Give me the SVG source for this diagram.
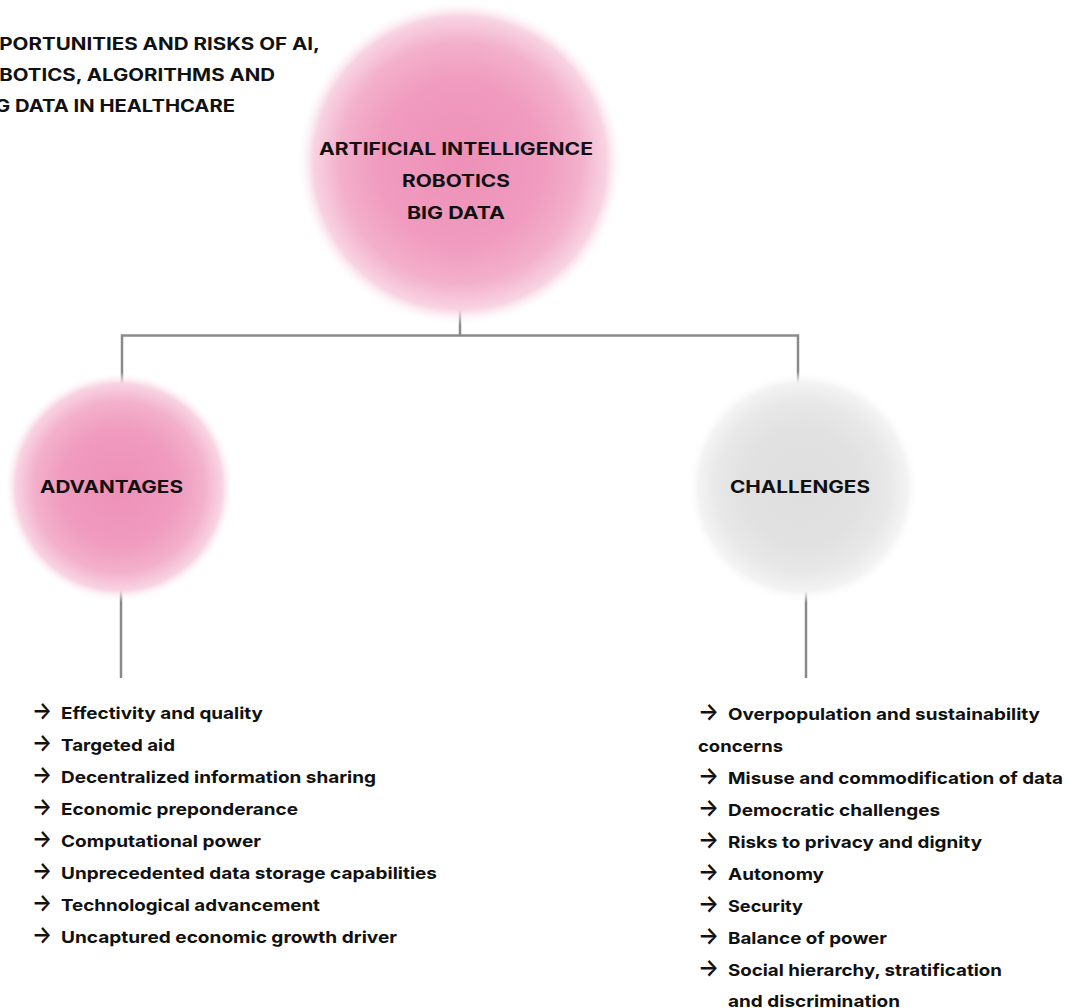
<svg xmlns="http://www.w3.org/2000/svg" width="1069" height="1008" viewBox="0 0 1069 1008">
  <style>
    text { font-family: "Inter", "DejaVu Sans", sans-serif; font-weight: 700; fill: #111111; }
    .title { font-size: 17px; }
    .head { font-size: 17px; text-anchor: middle; }
    .item { font-size: 16.5px; }
    .arr { font-family: "Inter", "DejaVu Sans", sans-serif; font-weight: 600; font-size: 24px; }
    .wire { stroke: #8a8a8a; stroke-width: 2.5; fill: none; }
  </style>
  <defs>
    <radialGradient id="pinkGlow" cx="50%" cy="50%" r="50%">
      <stop offset="0" stop-color="#ee90b7"/>
      <stop offset="0.5" stop-color="#f09bbf"/>
      <stop offset="0.74" stop-color="#f3b0cb"/>
      <stop offset="0.9" stop-color="#f8d4e2"/>
      <stop offset="1" stop-color="#ffffff" stop-opacity="0"/>
    </radialGradient>
    <radialGradient id="greyGlow" cx="50%" cy="50%" r="50%">
      <stop offset="0" stop-color="#dfdfdf"/>
      <stop offset="0.5" stop-color="#e1e1e1"/>
      <stop offset="0.74" stop-color="#e8e8e8"/>
      <stop offset="0.9" stop-color="#f3f3f3"/>
      <stop offset="1" stop-color="#ffffff" stop-opacity="0"/>
    </radialGradient>
  </defs>

  <rect width="1069" height="1008" fill="#ffffff"/>

  <!-- heading, runs off the left edge -->
  <g id="title">
    <text class="title" x="-30" y="49.5" textLength="350" lengthAdjust="spacingAndGlyphs">OPPORTUNITIES AND RISKS OF AI,</text>
    <text class="title" x="-30" y="80.5" textLength="305" lengthAdjust="spacingAndGlyphs">ROBOTICS, ALGORITHMS AND</text>
    <text class="title" x="-24" y="111.5" textLength="259" lengthAdjust="spacingAndGlyphs">BIG DATA IN HEALTHCARE</text>
  </g>

  <!-- connectors -->
  <g id="connectors">
    <path class="wire" d="M460 299 V335.5"/>
    <path class="wire" d="M122 412 V335.5 H798 V412"/>
    <path class="wire" d="M121 550 V678"/>
    <path class="wire" d="M806 550 V678"/>
  </g>

  <g id="node-core">
    <circle cx="460" cy="163" r="163" fill="url(#pinkGlow)"/>
    <text class="head" x="456" y="155" textLength="274" lengthAdjust="spacingAndGlyphs">ARTIFICIAL INTELLIGENCE</text>
    <text class="head" x="456" y="187" textLength="108" lengthAdjust="spacingAndGlyphs">ROBOTICS</text>
    <text class="head" x="456" y="219" textLength="98" lengthAdjust="spacingAndGlyphs">BIG DATA</text>
  </g>

  <g id="node-advantages">
    <circle cx="119" cy="487" r="115" fill="url(#pinkGlow)"/>
    <text class="head" x="111.5" y="493" textLength="143" lengthAdjust="spacingAndGlyphs">ADVANTAGES</text>
  </g>

  <g id="node-challenges">
    <circle cx="803" cy="487" r="116" fill="url(#greyGlow)"/>
    <text class="head" x="800" y="493" textLength="140" lengthAdjust="spacingAndGlyphs">CHALLENGES</text>
  </g>

  <g id="list-advantages">
    <text class="item" y="719"><tspan class="arr" x="32" textLength="20" lengthAdjust="spacingAndGlyphs">→</tspan><tspan x="61" textLength="202" lengthAdjust="spacingAndGlyphs">Effectivity and quality</tspan></text>
    <text class="item" y="751"><tspan class="arr" x="32" textLength="20" lengthAdjust="spacingAndGlyphs">→</tspan><tspan x="61" textLength="114" lengthAdjust="spacingAndGlyphs">Targeted aid</tspan></text>
    <text class="item" y="783"><tspan class="arr" x="32" textLength="20" lengthAdjust="spacingAndGlyphs">→</tspan><tspan x="61" textLength="315" lengthAdjust="spacingAndGlyphs">Decentralized information sharing</tspan></text>
    <text class="item" y="815"><tspan class="arr" x="32" textLength="20" lengthAdjust="spacingAndGlyphs">→</tspan><tspan x="61" textLength="237" lengthAdjust="spacingAndGlyphs">Economic preponderance</tspan></text>
    <text class="item" y="847"><tspan class="arr" x="32" textLength="20" lengthAdjust="spacingAndGlyphs">→</tspan><tspan x="61" textLength="200" lengthAdjust="spacingAndGlyphs">Computational power</tspan></text>
    <text class="item" y="879"><tspan class="arr" x="32" textLength="20" lengthAdjust="spacingAndGlyphs">→</tspan><tspan x="61" textLength="376" lengthAdjust="spacingAndGlyphs">Unprecedented data storage capabilities</tspan></text>
    <text class="item" y="911"><tspan class="arr" x="32" textLength="20" lengthAdjust="spacingAndGlyphs">→</tspan><tspan x="61" textLength="259" lengthAdjust="spacingAndGlyphs">Technological advancement</tspan></text>
    <text class="item" y="943"><tspan class="arr" x="32" textLength="20" lengthAdjust="spacingAndGlyphs">→</tspan><tspan x="61" textLength="336" lengthAdjust="spacingAndGlyphs">Uncaptured economic growth driver</tspan></text>
  </g>

  <g id="list-challenges">
    <text class="item" y="719.5"><tspan class="arr" x="698" textLength="21" lengthAdjust="spacingAndGlyphs">→</tspan><tspan x="728" textLength="312" lengthAdjust="spacingAndGlyphs">Overpopulation and sustainability</tspan></text>
    <text class="item" x="698" y="751.5" textLength="85" lengthAdjust="spacingAndGlyphs">concerns</text>
    <text class="item" y="783.5"><tspan class="arr" x="698" textLength="21" lengthAdjust="spacingAndGlyphs">→</tspan><tspan x="728" textLength="335" lengthAdjust="spacingAndGlyphs">Misuse and commodification of data</tspan></text>
    <text class="item" y="815.5"><tspan class="arr" x="698" textLength="21" lengthAdjust="spacingAndGlyphs">→</tspan><tspan x="728" textLength="212" lengthAdjust="spacingAndGlyphs">Democratic challenges</tspan></text>
    <text class="item" y="847.5"><tspan class="arr" x="698" textLength="21" lengthAdjust="spacingAndGlyphs">→</tspan><tspan x="728" textLength="254" lengthAdjust="spacingAndGlyphs">Risks to privacy and dignity</tspan></text>
    <text class="item" y="879.5"><tspan class="arr" x="698" textLength="21" lengthAdjust="spacingAndGlyphs">→</tspan><tspan x="728" textLength="96" lengthAdjust="spacingAndGlyphs">Autonomy</tspan></text>
    <text class="item" y="911.5"><tspan class="arr" x="698" textLength="21" lengthAdjust="spacingAndGlyphs">→</tspan><tspan x="728" textLength="75" lengthAdjust="spacingAndGlyphs">Security</tspan></text>
    <text class="item" y="943.5"><tspan class="arr" x="698" textLength="21" lengthAdjust="spacingAndGlyphs">→</tspan><tspan x="728" textLength="159" lengthAdjust="spacingAndGlyphs">Balance of power</tspan></text>
    <text class="item" y="975.5"><tspan class="arr" x="698" textLength="21" lengthAdjust="spacingAndGlyphs">→</tspan><tspan x="728" textLength="274" lengthAdjust="spacingAndGlyphs">Social hierarchy, stratification</tspan></text>
    <text class="item" x="728" y="1006.5" textLength="172" lengthAdjust="spacingAndGlyphs">and discrimination</text>
  </g>
</svg>
